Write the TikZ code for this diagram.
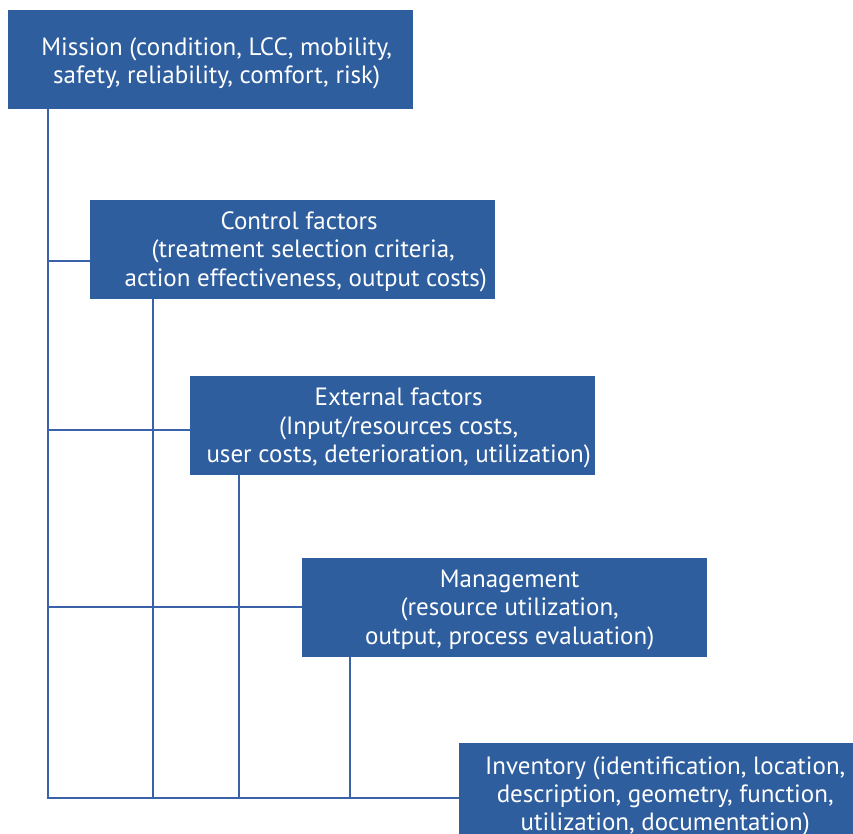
\documentclass[tikz,border=0pt]{standalone}
\usepackage{fontspec}
\setmainfont{PT Sans}
\definecolor{boxblue}{RGB}{46,94,158}
\definecolor{lineblue}{RGB}{58,98,168}
\tikzset{
  box/.style={fill=boxblue, draw=none, minimum width=405pt, minimum height=99pt,
    inner sep=0pt, anchor=north west},
  lbl/.style={text=white, inner sep=0pt, align=center, font=\fontsize{25}{28.3}\selectfont},
  conn/.style={draw=lineblue, line width=1.3pt}
}
\begin{document}
\begin{tikzpicture}[x=1pt,y=-1pt]
\useasboundingbox (0,0) rectangle (853,834);
\node[box, label={[lbl, xshift=6pt, yshift=-4pt]center:{Mission (condition, LCC, mobility,\\safety, reliability, comfort, risk)}}] (m) at (8,10) {};
\node[box, label={[lbl, xshift=13pt, yshift=-2pt]center:{\hspace*{-13pt}Control factors\\\hspace*{-5pt}(treatment selection criteria,\\action effectiveness, output costs)}}] (c) at (90,200) {};
\node[box, label={[lbl, xshift=6pt, yshift=-2.5pt]center:{External factors\\(Input/resources costs,\\user costs, deterioration, utilization)}}] (e) at (190,376) {};
\node[box, label={[lbl, xshift=5pt, yshift=-2pt]center:{Management\\(resource utilization,\\output, process evaluation)}}] (g) at (302,558) {};
\node[box, minimum height=104pt, label={[lbl, xshift=3.5pt, yshift=-1pt]center:{Inventory (identification, location,\\description, geometry, function,\\utilization, documentation)}}] (i) at (459,743) {};
\coordinate (b0) at (48,798);
\draw[conn] ([xshift=40pt]m.south west) -- (b0) -- (b0 -| i.west);
\draw[conn] (b0 |- 0,261) -- (c.west |- 0,261);
\draw[conn] (b0 |- 0,430) -- (e.west |- 0,430);
\draw[conn] (b0 |- 0,607) -- (g.west |- 0,607);
\draw[conn] ([xshift=63pt]c.south west) -- ([xshift=63pt]c.south west |- b0);
\draw[conn] ([xshift=49pt]e.south west) -- ([xshift=49pt]e.south west |- b0);
\draw[conn] ([xshift=48pt]g.south west) -- ([xshift=48pt]g.south west |- b0);
\end{tikzpicture}
\end{document}
